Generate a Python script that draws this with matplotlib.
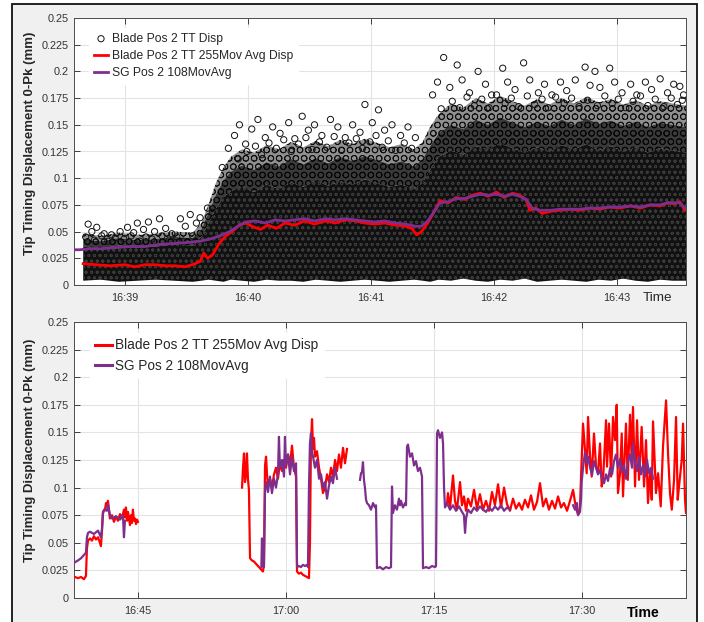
import numpy as np
import matplotlib
matplotlib.use('Agg')
import matplotlib.pyplot as plt
from matplotlib.patches import Rectangle
from matplotlib.ticker import FuncFormatter, MultipleLocator

plt.rcParams['font.family'] = ['Liberation Sans', 'DejaVu Sans']
plt.rcParams['hatch.linewidth'] = 0.6

RED = '#ff0000'
PURPLE = '#7e2f8e'
INK = '#262626'

# times are minutes after 16:00

# ---- upper panel: 16:38:35 - 16:43:34 ----
tt_avg_t = [38.66, 38.76, 38.88, 39.00, 39.08, 39.16, 39.24, 39.33, 39.41, 39.49,
            39.57, 39.61, 39.64, 39.67, 39.71, 39.76, 39.81, 39.87, 39.93, 39.98,
            40.03, 40.10, 40.16, 40.23, 40.30, 40.38, 40.46, 40.54, 40.63, 40.71,
            40.79, 40.87, 40.95, 41.03, 41.11, 41.20, 41.28, 41.33, 41.37, 41.41,
            41.46, 41.51, 41.56, 41.63, 41.69, 41.76, 41.82, 41.89, 41.95, 42.02,
            42.08, 42.15, 42.21, 42.26, 42.29, 42.34, 42.39, 42.46, 42.54, 42.62,
            42.70, 42.78, 42.86, 42.94, 43.02, 43.11, 43.19, 43.27, 43.35, 43.41,
            43.47, 43.51, 43.55]
tt_avg_v = [0.020, 0.019, 0.018, 0.019, 0.017, 0.019, 0.019, 0.018, 0.018, 0.017,
            0.020, 0.022, 0.030, 0.025, 0.028, 0.038, 0.045, 0.050, 0.056, 0.058,
            0.055, 0.052, 0.056, 0.053, 0.058, 0.056, 0.060, 0.057, 0.060, 0.058,
            0.061, 0.060, 0.058, 0.057, 0.058, 0.056, 0.055, 0.053, 0.047, 0.050,
            0.058, 0.068, 0.079, 0.077, 0.082, 0.080, 0.084, 0.086, 0.083, 0.087,
            0.082, 0.086, 0.084, 0.080, 0.070, 0.072, 0.067, 0.069, 0.070, 0.071,
            0.070, 0.072, 0.071, 0.073, 0.072, 0.074, 0.072, 0.075, 0.074, 0.077,
            0.076, 0.078, 0.070]

sg_avg_t = [38.58, 38.63, 38.72, 38.80, 38.92, 39.04, 39.16, 39.28, 39.41, 39.53,
            39.61, 39.69, 39.77, 39.85, 39.93, 39.98, 40.06, 40.14, 40.22, 40.30,
            40.38, 40.46, 40.54, 40.63, 40.71, 40.79, 40.87, 40.95, 41.03, 41.11,
            41.20, 41.28, 41.36, 41.41, 41.46, 41.51, 41.56, 41.63, 41.69, 41.76,
            41.82, 41.89, 41.95, 42.02, 42.08, 42.15, 42.21, 42.26, 42.31, 42.37,
            42.46, 42.54, 42.62, 42.70, 42.78, 42.86, 42.94, 43.02, 43.11, 43.19,
            43.27, 43.35, 43.41, 43.47, 43.51, 43.55]
sg_avg_v = [0.033, 0.033, 0.034, 0.034, 0.035, 0.036, 0.036, 0.038, 0.039, 0.040,
            0.041, 0.043, 0.046, 0.050, 0.056, 0.059, 0.060, 0.058, 0.061, 0.060,
            0.061, 0.062, 0.060, 0.062, 0.061, 0.062, 0.061, 0.060, 0.059, 0.060,
            0.058, 0.057, 0.055, 0.055, 0.060, 0.068, 0.077, 0.078, 0.081, 0.081,
            0.083, 0.085, 0.084, 0.085, 0.083, 0.085, 0.083, 0.080, 0.072, 0.070,
            0.070, 0.071, 0.071, 0.071, 0.072, 0.072, 0.073, 0.073, 0.074, 0.073,
            0.075, 0.075, 0.077, 0.077, 0.077, 0.072]

# blade displacement readings: limits of the solid core, the dense band and
# the thinner band above it
cloud_t = [38.66, 38.80, 38.95, 39.10, 39.25, 39.40, 39.55, 39.62, 39.68, 39.74,
           39.80, 39.86, 39.95, 40.05, 40.15, 40.25, 40.35, 40.45, 40.55, 40.65,
           40.75, 40.85, 40.95, 41.05, 41.15, 41.25, 41.35, 41.42, 41.48, 41.55,
           41.65, 41.75, 41.85, 41.95, 42.05, 42.15, 42.25, 42.35, 42.45, 42.55,
           42.65, 42.75, 42.85, 42.95, 43.05, 43.15, 43.25, 43.35, 43.45, 43.56]
cloud_lo = [0.004, 0.005, 0.003, 0.004, 0.005, 0.004, 0.003, 0.004, 0.005, 0.004,
            0.003, 0.005, 0.004, 0.003, 0.005, 0.004, 0.004, 0.003, 0.005, 0.004,
            0.003, 0.004, 0.005, 0.004, 0.003, 0.004, 0.005, 0.004, 0.003, 0.005,
            0.004, 0.006, 0.004, 0.003, 0.005, 0.004, 0.006, 0.003, 0.004, 0.005,
            0.004, 0.003, 0.005, 0.004, 0.006, 0.004, 0.003, 0.005, 0.004, 0.004]
cloud_core = [0.036, 0.034, 0.037, 0.035, 0.036, 0.038, 0.037, 0.045, 0.058, 0.072,
              0.082, 0.088, 0.092, 0.087, 0.094, 0.090, 0.096, 0.092, 0.098, 0.093,
              0.097, 0.094, 0.099, 0.095, 0.092, 0.094, 0.090, 0.096, 0.108, 0.120,
              0.126, 0.122, 0.130, 0.127, 0.133, 0.128, 0.124, 0.129, 0.125, 0.131,
              0.127, 0.132, 0.126, 0.130, 0.125, 0.129, 0.124, 0.128, 0.126, 0.124]
cloud_mid = [0.043, 0.041, 0.044, 0.042, 0.043, 0.045, 0.044, 0.052, 0.068, 0.085,
             0.098, 0.106, 0.112, 0.108, 0.115, 0.111, 0.118, 0.113, 0.119, 0.114,
             0.120, 0.116, 0.121, 0.117, 0.113, 0.116, 0.111, 0.118, 0.130, 0.142,
             0.150, 0.146, 0.155, 0.150, 0.157, 0.152, 0.148, 0.153, 0.149, 0.155,
             0.150, 0.156, 0.151, 0.154, 0.149, 0.153, 0.148, 0.152, 0.150, 0.148]
cloud_top = [0.048, 0.046, 0.049, 0.047, 0.048, 0.050, 0.049, 0.058, 0.076, 0.096,
             0.110, 0.120, 0.127, 0.124, 0.131, 0.127, 0.134, 0.129, 0.135, 0.130,
             0.136, 0.132, 0.137, 0.133, 0.129, 0.132, 0.127, 0.134, 0.148, 0.160,
             0.170, 0.166, 0.175, 0.170, 0.177, 0.172, 0.168, 0.174, 0.169, 0.175,
             0.170, 0.176, 0.171, 0.174, 0.169, 0.173, 0.168, 0.172, 0.170, 0.168]

# single readings along the upper edge of the band
fringe_t = [38.68, 38.75, 38.81, 38.86, 38.92, 38.99, 39.05, 39.12, 39.17, 39.22,
            39.30, 39.36, 39.42, 39.47, 39.55,
            39.92, 39.99, 40.06, 40.11, 40.17, 40.23, 40.29, 40.35, 40.41, 40.47,
            40.52, 40.58, 40.64, 40.70, 40.76, 40.82, 40.88, 40.93, 40.99, 41.04,
            41.09, 41.14, 41.20, 41.27, 41.33,
            41.57, 41.66, 41.72, 41.78, 41.84, 41.90, 41.96, 42.02, 42.09, 42.14,
            42.20, 42.27, 42.33, 42.39, 42.44, 42.50, 42.57, 42.63, 42.69, 42.76,
            42.84, 42.90, 42.96, 43.01, 43.07, 43.13, 43.19, 43.25, 43.31, 43.38,
            43.44, 43.49, 43.53]
fringe_v = [0.045, 0.042, 0.046, 0.041, 0.044, 0.043, 0.046, 0.041, 0.045, 0.043,
            0.046, 0.042, 0.045, 0.041, 0.046,
            0.118, 0.125, 0.130, 0.122, 0.133, 0.128, 0.136, 0.125, 0.132, 0.138,
            0.127, 0.134, 0.129, 0.139, 0.126, 0.133, 0.137, 0.128, 0.134, 0.140,
            0.129, 0.135, 0.126, 0.133, 0.128,
            0.165, 0.172, 0.166, 0.176, 0.168, 0.174, 0.166, 0.178, 0.170, 0.175,
            0.167, 0.177, 0.169, 0.174, 0.166, 0.176, 0.170, 0.175, 0.167, 0.173,
            0.168, 0.177, 0.170, 0.174, 0.166, 0.172, 0.177, 0.168, 0.174, 0.167,
            0.175, 0.169, 0.173]

# outlying readings above the band
sparse_t = [38.70, 38.73, 38.77, 38.83, 38.89, 38.96, 39.02, 39.07, 39.10, 39.15,
            39.19, 39.24, 39.28, 39.33, 39.38, 39.45, 39.49, 39.53, 39.58, 39.61,
            39.67, 39.71,
            39.79, 39.84, 39.89, 39.93, 39.98, 40.03, 40.08, 40.14, 40.20, 40.26,
            40.33, 40.38, 40.44, 40.49, 40.54, 40.60, 40.67, 40.73, 40.79, 40.85,
            40.91, 40.95, 41.01, 41.06, 41.11, 41.17, 41.24, 41.30, 41.36,
            41.50, 41.54, 41.59, 41.64, 41.70, 41.74, 41.80, 41.87, 41.93, 41.98,
            42.07, 42.11, 42.17, 42.24, 42.29, 42.36, 42.41, 42.47, 42.54, 42.59,
            42.66, 42.74, 42.78, 42.82, 42.86, 42.94, 42.98, 43.04, 43.11, 43.16,
            43.23, 43.28, 43.35, 43.41, 43.46, 43.51, 43.54]
sparse_v = [0.057, 0.050, 0.054, 0.048, 0.047, 0.050, 0.054, 0.049, 0.058, 0.052,
            0.059, 0.050, 0.062, 0.053, 0.048, 0.062, 0.055, 0.066, 0.058, 0.063,
            0.072, 0.068,
            0.110, 0.128, 0.140, 0.150, 0.132, 0.146, 0.155, 0.138, 0.148, 0.142,
            0.152, 0.137, 0.158, 0.145, 0.150, 0.140, 0.155, 0.148, 0.138, 0.150,
            0.143, 0.169, 0.152, 0.164, 0.145, 0.150, 0.140, 0.148, 0.138,
            0.178, 0.190, 0.213, 0.185, 0.206, 0.192, 0.180, 0.200, 0.188, 0.178,
            0.203, 0.190, 0.183, 0.208, 0.192, 0.180, 0.188, 0.178, 0.190, 0.182,
            0.192, 0.204, 0.187, 0.200, 0.185, 0.203, 0.190, 0.180, 0.188, 0.178,
            0.190, 0.183, 0.193, 0.180, 0.188, 0.186, 0.178]

# ---- lower panel: 16:38 - 17:40 ----
tt_a_t = [38.62, 38.92, 39.23, 39.53, 39.73, 39.83, 39.94, 40.14, 40.34, 40.54,
          40.75, 40.95, 41.15, 41.25, 41.35, 41.45, 41.66, 41.76, 41.86, 41.96,
          42.06, 42.16, 42.37, 42.57, 42.77, 42.97, 43.18, 43.38, 43.58, 43.68,
          43.78, 43.89, 43.99, 44.19, 44.29, 44.39, 44.49, 44.59, 44.70, 44.80,
          44.90, 45.00]
tt_a_v = [0.019, 0.018, 0.019, 0.017, 0.020, 0.045, 0.052, 0.054, 0.052, 0.056,
          0.053, 0.055, 0.050, 0.047, 0.060, 0.078, 0.080, 0.086, 0.083, 0.088,
          0.080, 0.072, 0.075, 0.069, 0.074, 0.070, 0.076, 0.072, 0.080, 0.073,
          0.082, 0.070, 0.078, 0.066, 0.075, 0.068, 0.080, 0.070, 0.072, 0.067,
          0.071, 0.069]

tt_b_t = [55.54, 55.64, 55.74, 55.84, 55.94, 56.04, 56.14, 56.24, 56.35, 56.55,
          56.75, 56.95, 57.16, 57.36, 57.56, 57.66, 57.76, 57.87, 57.97, 58.07,
          58.17, 58.37, 58.57, 58.78, 58.98, 59.18, 59.38, 59.59, 59.79, 59.99,
          60.20, 60.40, 60.60, 60.80, 61.01, 61.11, 61.31, 61.51, 61.71, 61.92,
          62.12, 62.32, 62.42, 62.52, 62.63, 62.73, 62.83, 62.93, 63.13, 63.34,
          63.54, 63.74, 63.94, 64.15, 64.35, 64.55, 64.75, 64.96, 65.16, 65.36,
          65.56, 65.77, 65.97, 66.17]
tt_b_v = [0.100, 0.118, 0.131, 0.105, 0.112, 0.131, 0.108, 0.098, 0.036, 0.034,
          0.033, 0.031, 0.029, 0.027, 0.025, 0.024, 0.030, 0.120, 0.128, 0.112,
          0.102, 0.108, 0.100, 0.112, 0.118, 0.108, 0.122, 0.115, 0.125, 0.118,
          0.130, 0.120, 0.138, 0.118, 0.110, 0.024, 0.022, 0.023, 0.021, 0.020,
          0.019, 0.018, 0.050, 0.140, 0.162, 0.135, 0.145, 0.128, 0.133, 0.118,
          0.108, 0.095, 0.100, 0.112, 0.105, 0.118, 0.110, 0.125, 0.115, 0.130,
          0.118, 0.136, 0.122, 0.135]

tt_c_t = [76.30, 76.40, 76.61, 76.91, 77.11, 77.31, 77.62, 77.82, 78.02, 78.23,
          78.43, 78.73, 79.04, 79.34, 79.64, 79.95, 80.25, 80.56, 80.86, 81.16,
          81.47, 81.77, 82.08, 82.38, 82.68, 82.99, 83.29, 83.60, 83.90, 84.20,
          84.51, 84.81, 85.11, 85.42, 85.72, 86.03, 86.33, 86.63, 86.94, 87.24,
          87.55, 87.85, 88.15, 88.46, 88.76, 89.07, 89.37, 89.57, 89.77,
          89.94, 90.08, 90.28, 90.45, 90.59, 90.79, 90.96, 91.19, 91.40, 91.60,
          91.80, 91.97, 92.11, 92.41, 92.51, 92.71, 92.92, 93.12, 93.32, 93.49,
          93.62, 93.83, 94.00, 94.13, 94.43, 94.61, 94.84, 95.01, 95.14, 95.35,
          95.55, 95.75, 96.02, 96.26, 96.46, 96.66, 96.87, 97.04, 97.17, 97.47,
          97.68, 97.95, 98.18, 98.49, 98.69, 98.89, 99.07, 99.30, 99.50, 99.67,
          99.80, 100.08, 100.21, 100.41, 100.51]
tt_c_v = [0.085, 0.095, 0.082, 0.111, 0.088, 0.080, 0.105, 0.084, 0.092, 0.079,
          0.090, 0.083, 0.098, 0.081, 0.094, 0.080, 0.088, 0.079, 0.096, 0.084,
          0.103, 0.082, 0.100, 0.085, 0.079, 0.090, 0.081, 0.086, 0.080, 0.089,
          0.082, 0.093, 0.080, 0.087, 0.104, 0.083, 0.090, 0.080, 0.088, 0.081,
          0.092, 0.082, 0.086, 0.079, 0.088, 0.098, 0.081, 0.076, 0.082,
          0.125, 0.158, 0.134, 0.113, 0.164, 0.128, 0.110, 0.149, 0.119, 0.113,
          0.140, 0.101, 0.107, 0.161, 0.119, 0.158, 0.110, 0.164, 0.143, 0.175,
          0.095, 0.113, 0.149, 0.092, 0.158, 0.107, 0.166, 0.125, 0.173, 0.101,
          0.161, 0.107, 0.155, 0.101, 0.143, 0.086, 0.116, 0.089, 0.160, 0.095,
          0.113, 0.083, 0.137, 0.179, 0.131, 0.095, 0.080, 0.107, 0.164, 0.089,
          0.101, 0.125, 0.158, 0.089, 0.077]

sg_a_t = [38.55, 38.92, 39.23, 39.53, 39.73, 39.83, 39.94, 40.14, 40.54, 40.95,
          41.15, 41.25, 41.35, 41.45, 41.56, 41.86, 41.96, 42.16, 42.37, 42.77,
          43.18, 43.38, 43.48, 43.58, 43.68]
sg_a_v = [0.032, 0.034, 0.036, 0.039, 0.041, 0.055, 0.059, 0.060, 0.058, 0.061,
          0.057, 0.055, 0.062, 0.076, 0.080, 0.079, 0.085, 0.075, 0.072, 0.074,
          0.071, 0.075, 0.074, 0.055, 0.070]

sg_b_t = [57.50, 57.56, 57.66, 57.76, 57.87, 57.97, 58.17, 58.37, 58.57, 58.78,
          58.98, 59.18, 59.28, 59.38, 59.59, 59.79, 59.89, 59.99, 60.20, 60.40,
          60.60, 60.80, 61.01, 61.11, 61.31, 61.51, 61.71, 61.92, 62.12, 62.22,
          62.32, 62.42, 62.52, 62.63, 62.73, 62.93, 63.13, 63.34, 63.54, 63.74,
          63.94, 64.15, 64.35, 64.55, 64.75, 64.96, 65.16]
sg_b_v = [0.028, 0.054, 0.030, 0.028, 0.098, 0.105, 0.096, 0.110, 0.095, 0.108,
          0.100, 0.112, 0.146, 0.118, 0.125, 0.110, 0.146, 0.120, 0.130, 0.112,
          0.128, 0.115, 0.122, 0.028, 0.029, 0.028, 0.030, 0.029, 0.030, 0.028,
          0.100, 0.140, 0.149, 0.132, 0.128, 0.118, 0.125, 0.108, 0.112, 0.100,
          0.105, 0.090, 0.102, 0.110, 0.104, 0.118, 0.108]

sg_c_t = [67.49, 67.59, 67.69, 67.79, 67.89, 67.99, 68.10, 68.20, 68.40, 68.60,
          68.81, 69.01, 69.11, 69.21, 69.51, 69.82, 70.12, 70.42, 70.63, 70.73,
          70.83, 71.03, 71.23, 71.44, 71.54, 71.64, 71.84, 72.05, 72.15, 72.25,
          72.35, 72.55, 72.76, 72.96, 73.16, 73.36, 73.57, 73.77, 73.87, 74.18,
          74.48, 74.78, 75.09, 75.19, 75.29, 75.39, 75.59, 75.80, 75.90, 76.00,
          76.10, 76.30, 76.61, 76.91, 77.21, 77.52, 77.82, 78.02, 78.13, 78.23,
          78.43, 78.73, 79.04, 79.34, 79.64, 79.95, 80.25, 80.56, 80.86, 81.16,
          81.47, 81.77, 82.08, 82.38, 82.68]
sg_c_v = [0.107, 0.113, 0.114, 0.123, 0.107, 0.100, 0.089, 0.086, 0.084, 0.080,
          0.086, 0.082, 0.084, 0.027, 0.028, 0.026, 0.028, 0.027, 0.028, 0.101,
          0.077, 0.084, 0.080, 0.090, 0.084, 0.088, 0.082, 0.086, 0.084, 0.137,
          0.139, 0.128, 0.131, 0.120, 0.124, 0.115, 0.118, 0.110, 0.027, 0.028,
          0.027, 0.029, 0.028, 0.029, 0.149, 0.152, 0.145, 0.150, 0.140, 0.100,
          0.082, 0.086, 0.080, 0.084, 0.079, 0.083, 0.078, 0.075, 0.059, 0.072,
          0.080, 0.077, 0.082, 0.079, 0.083, 0.080, 0.078, 0.082, 0.079, 0.083,
          0.080, 0.084, 0.079, 0.082, 0.080]

sg_d_t = [89.07, 89.27, 89.47, 89.57, 89.77, 89.88, 89.94, 90.08, 90.28, 90.45,
          90.59, 90.79, 91.00, 91.19, 91.40, 91.60, 91.80, 92.01, 92.21, 92.41,
          92.61, 92.82, 93.02, 93.22, 93.42, 93.62, 93.83, 94.03, 94.23, 94.43,
          94.64, 94.84, 95.04, 95.14, 95.35, 95.55, 95.75, 95.95, 96.16, 96.36,
          96.56, 96.77, 96.97, 97.17]
sg_d_v = [0.084, 0.080, 0.086, 0.075, 0.078, 0.090, 0.105, 0.118, 0.132, 0.122,
          0.128, 0.118, 0.112, 0.124, 0.118, 0.112, 0.116, 0.108, 0.104, 0.112,
          0.106, 0.118, 0.112, 0.124, 0.130, 0.118, 0.126, 0.114, 0.120, 0.108,
          0.124, 0.130, 0.118, 0.140, 0.122, 0.115, 0.128, 0.112, 0.120, 0.110,
          0.125, 0.113, 0.118, 0.108]

tt_label = 'Blade Pos 2 TT 255Mov Avg Disp'
sg_label = 'SG Pos 2 108MovAvg'
disp_label = 'Blade Pos 2 TT Disp'
y_label = 'Tip Timing Displacement 0-Pk (mm)'


def clock(m, pos=None):
    m = int(round(m))
    return f"{16 + m // 60}:{m % 60:02d}"


def style_axes(ax, xticks):
    ax.set_ylim(0, 0.25)
    ax.yaxis.set_major_locator(MultipleLocator(0.025))
    ax.yaxis.set_major_formatter(FuncFormatter(lambda v, p: f"{v:g}"))
    ax.set_xticks(xticks)
    ax.xaxis.set_major_formatter(FuncFormatter(clock))
    ax.grid(True, color='#e3e3e3', lw=0.8)
    ax.set_axisbelow(True)
    ax.tick_params(direction='in', length=4, width=0.6, colors=INK,
                   labelsize=7.8, top=True, right=True, labelcolor='#333333')
    ax.tick_params(axis='x', pad=6)
    ax.tick_params(axis='y', pad=4)
    for s in ax.spines.values():
        s.set_color('#4d4d4d')
        s.set_linewidth(0.7)
    ax.set_ylabel(y_label, fontsize=9.5, fontweight='bold', color=INK)


fig = plt.figure(figsize=(7.04, 6.22), dpi=100, facecolor='white')
fig.patches.append(Rectangle((12 / 704, -0.02), 685 / 704, 1.0136,
                             transform=fig.transFigure, facecolor='#f0f0f0',
                             edgecolor='#111111', lw=1.3, zorder=-5))

# upper panel
ax1 = fig.add_axes([74 / 704, 337 / 622, 612 / 704, 267 / 622])
ax1.fill_between(cloud_t, cloud_mid, cloud_top, facecolor='#8f8f8f',
                 edgecolor='#101010', hatch='OO', lw=0, zorder=1)
ax1.fill_between(cloud_t, cloud_core, cloud_mid, facecolor='#3a3a3a',
                 edgecolor='#050505', hatch='OO', lw=0, zorder=1)
ax1.fill_between(cloud_t, cloud_lo, cloud_core, facecolor='#111111',
                 edgecolor='#3c3c3c', hatch='ooo', lw=0, zorder=1)
ax1.scatter(fringe_t, fringe_v, s=20, facecolors='none',
            edgecolors='#111111', linewidths=0.7, zorder=2)
pts = ax1.scatter(sparse_t, sparse_v, s=20, facecolors='none',
                  edgecolors='#111111', linewidths=0.7, zorder=2,
                  label=disp_label)
l_tt, = ax1.plot(tt_avg_t, tt_avg_v, color=RED, lw=2.0, zorder=3,
                 label=tt_label)
l_sg, = ax1.plot(sg_avg_t, sg_avg_v, color=PURPLE, lw=2.0, zorder=4,
                 label=sg_label)
ax1.set_xlim(38.585, 43.56)
style_axes(ax1, [39, 40, 41, 42, 43])
ax1.yaxis.set_label_coords(-0.062, 0.532)
ax1.text(0.953, -0.049, 'Time', transform=ax1.transAxes, ha='center',
         va='center', fontsize=9.7, color=INK)
leg1 = ax1.legend(handles=[pts, l_tt, l_sg], loc='upper left',
                  bbox_to_anchor=(0.015, 0.985), fontsize=8.7,
                  handlelength=1.15, handletextpad=0.35, labelspacing=0.42,
                  borderpad=0.4, frameon=True, fancybox=False,
                  facecolor='white', edgecolor='white', framealpha=1)
for t in leg1.get_texts():
    t.set_color(INK)

# lower panel
ax2 = fig.add_axes([74 / 704, 24 / 622, 612 / 704, 276 / 622])
for t, v in [(tt_a_t, tt_a_v), (tt_b_t, tt_b_v), (tt_c_t, tt_c_v)]:
    ax2.plot(t, v, color=RED, lw=1.6, zorder=3)
for t, v in [(sg_a_t, sg_a_v), (sg_b_t, sg_b_v), (sg_c_t, sg_c_v),
             (sg_d_t, sg_d_v)]:
    ax2.plot(t, v, color=PURPLE, lw=1.6, zorder=4)
ax2.set_xlim(38.52, 100.51)
style_axes(ax2, [45, 60, 75, 90])
ax2.yaxis.set_label_coords(-0.062, 0.536)
ax2.text(0.930, -0.053, 'Time', transform=ax2.transAxes, ha='center',
         va='center', fontsize=10.2, fontweight='bold', color='black')
h_tt = plt.Line2D([], [], color=RED, lw=2.2)
h_sg = plt.Line2D([], [], color=PURPLE, lw=2.2)
leg2 = ax2.legend(handles=[h_tt, h_sg], labels=[tt_label, sg_label],
                  loc='upper left', bbox_to_anchor=(0.015, 0.985),
                  fontsize=9.8, handlelength=1.25, handletextpad=0.2,
                  labelspacing=0.45, borderpad=0.4, frameon=True,
                  fancybox=False, facecolor='white', edgecolor='white',
                  framealpha=1)
for t in leg2.get_texts():
    t.set_color(INK)

fig.savefig('out.png', dpi=100)
